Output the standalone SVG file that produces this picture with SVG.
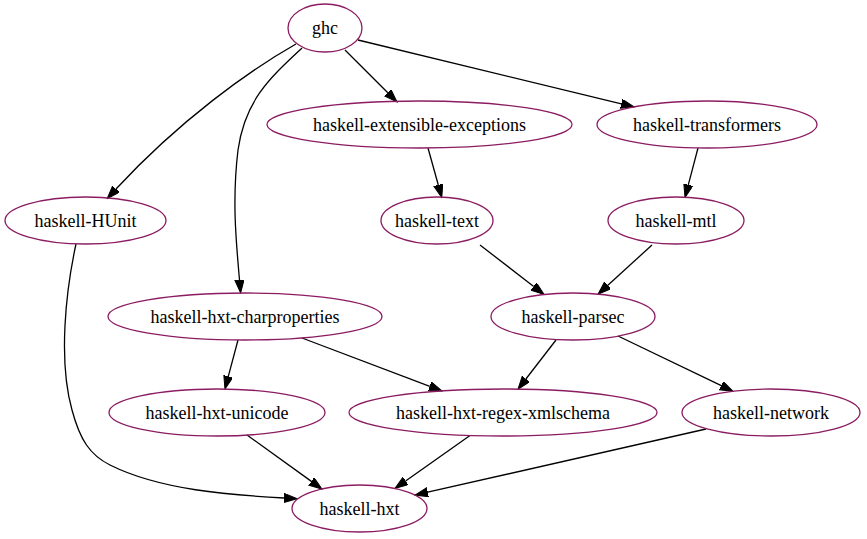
<svg xmlns="http://www.w3.org/2000/svg" width="867" height="539" viewBox="0 0 867 539">
<style>
.n ellipse{fill:none;stroke:#8b1c62;stroke-width:1.3}
.n text{font-family:"Liberation Serif","Times New Roman",serif;font-size:18px;fill:#000;text-anchor:middle}
.e path{fill:none;stroke:#000;stroke-width:1.3;marker-end:url(#ah)}
</style>
<defs>
<marker id="ah" markerUnits="userSpaceOnUse" markerWidth="14" markerHeight="10" refX="0" refY="4.6" orient="auto" viewBox="0 0 14 10">
<path d="M0,0 L13,4.6 L0,9.2 z" fill="#000" stroke="#000" stroke-width="1"/>
</marker>
</defs>
<rect width="867" height="539" fill="#fff"/>
<g id="edges" class="e">
<path d="M345,50 L387.8,92.8"/>
<path d="M358,40 L621.4,103.8"/>
<path d="M296,44 C250,70 180,120 116,189"/>
<path d="M302,48 C270,78 245,100 238,150 C232,200 236,240 239.5,280"/>
<path d="M428,148 L438.3,185"/>
<path d="M698,148 L688.3,184.9"/>
<path d="M480,245 L533.7,286.5"/>
<path d="M652,245 L607.6,285.4"/>
<path d="M76,244 C66,290 58,360 72,410 C80,440 90,455 110,465 C160,490 230,495 284,498"/>
<path d="M238,340 L228.3,376.4"/>
<path d="M302,338 L429.8,386.3"/>
<path d="M556,340 L525.9,379"/>
<path d="M618,336 L721.3,385.7"/>
<path d="M247,435 L311.4,481.4"/>
<path d="M470,435.5 L405.6,481"/>
<path d="M706,429 L427.7,492.2"/>
</g>
<g id="ghc" class="n"><ellipse cx="325" cy="28" rx="37" ry="24"/><text x="325" y="34">ghc</text></g>
<g id="haskell-extensible-exceptions" class="n"><ellipse cx="419.5" cy="124.5" rx="152.5" ry="23.5"/><text x="419.5" y="130.5">haskell-extensible-exceptions</text></g>
<g id="haskell-transformers" class="n"><ellipse cx="707" cy="124.5" rx="110" ry="23.5"/><text x="707" y="130.5">haskell-transformers</text></g>
<g id="haskell-HUnit" class="n"><ellipse cx="85.5" cy="220.5" rx="80.5" ry="23.5"/><text x="85.5" y="226.5">haskell-HUnit</text></g>
<g id="haskell-text" class="n"><ellipse cx="437" cy="220.5" rx="56" ry="23.5"/><text x="437" y="226.5">haskell-text</text></g>
<g id="haskell-mtl" class="n"><ellipse cx="676" cy="220.5" rx="68" ry="23.5"/><text x="676" y="226.5">haskell-mtl</text></g>
<g id="haskell-hxt-charproperties" class="n"><ellipse cx="245" cy="316.5" rx="137" ry="23.5"/><text x="245" y="322.5">haskell-hxt-charproperties</text></g>
<g id="haskell-parsec" class="n"><ellipse cx="573" cy="316.5" rx="82" ry="23.5"/><text x="573" y="322.5">haskell-parsec</text></g>
<g id="haskell-hxt-unicode" class="n"><ellipse cx="217" cy="412.5" rx="108" ry="23.5"/><text x="217" y="418.5">haskell-hxt-unicode</text></g>
<g id="haskell-hxt-regex-xmlschema" class="n"><ellipse cx="503" cy="412.5" rx="154" ry="23.5"/><text x="503" y="418.5">haskell-hxt-regex-xmlschema</text></g>
<g id="haskell-network" class="n"><ellipse cx="771" cy="412.5" rx="89" ry="23.5"/><text x="771" y="418.5">haskell-network</text></g>
<g id="haskell-hxt" class="n"><ellipse cx="359.5" cy="508.5" rx="67.5" ry="23.5"/><text x="359.5" y="514.5">haskell-hxt</text></g>
</svg>
